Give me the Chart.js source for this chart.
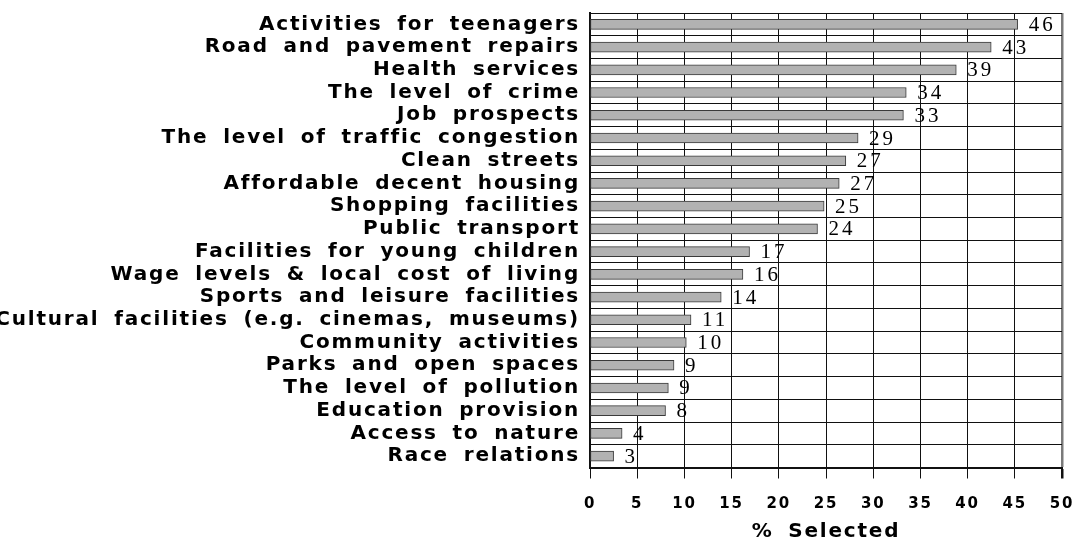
<!DOCTYPE html>
<html>
<head>
<meta charset="utf-8">
<script src="https://cdn.jsdelivr.net/npm/chart.js@4/dist/chart.umd.min.js"></script>
<style>
  html, body { margin: 0; padding: 0; background: #fff; }
  #wrap { width: 1076px; height: 542px; }
</style>
</head>
<body>
<div id="wrap"><canvas id="myChart" width="1076" height="542"></canvas></div>
<script>
"use strict";
const categories = [
  "Activities for teenagers",
  "Road and pavement repairs",
  "Health services",
  "The level of crime",
  "Job prospects",
  "The level of traffic congestion",
  "Clean streets",
  "Affordable decent housing",
  "Shopping facilities",
  "Public transport",
  "Facilities for young children",
  "Wage levels & local cost of living",
  "Sports and leisure facilities",
  "Cultural facilities (e.g. cinemas, museums)",
  "Community activities",
  "Parks and open spaces",
  "The level of pollution",
  "Education provision",
  "Access to nature",
  "Race relations",
];
// bar lengths as drawn
const barValues = [45.3, 42.5, 38.8, 33.5, 33.2, 28.4, 27.1, 26.4, 24.8, 24.1,
  16.9, 16.2, 13.9, 10.7, 10.2, 8.9, 8.3, 8.0, 3.4, 2.5];
// numbers printed next to the bars
const valueLabels = [46, 43, 39, 34, 33, 29, 27, 27, 25, 24,
  17, 16, 14, 11, 10, 9, 9, 8, 4, 3];
const xMin = 0;
const xMax = 50;
const xStep = 5;
const xTitle = "% Selected";

const ctx = document.getElementById("myChart");
const sans = '"DejaVu Sans", Verdana, sans-serif';

// slightly wide letter / word spacing like the original export
function setSpacing(c) {
  c.letterSpacing = "1.8px";
  c.wordSpacing = "6px";
}
const spacingPlugin = {
  id: "spacing",
  beforeLayout(chart) { setSpacing(chart.ctx); },
  beforeDraw(chart) { setSpacing(chart.ctx); },
};

const valueLabelPlugin = {
  id: "valueLabels",
  afterDatasetsDraw(chart) {
    const c = chart.ctx;
    const meta = chart.getDatasetMeta(0);
    c.save();
    c.letterSpacing = "3px";
    c.font = '21px "Liberation Serif", "Times New Roman", serif';
    c.fillStyle = "#000";
    c.textAlign = "left";
    c.textBaseline = "middle";
    meta.data.forEach((bar, i) => {
      c.fillText(String(valueLabels[i]), bar.x + 11, bar.y + 1);
    });
    c.restore();
  },
};

const myChart = new Chart(ctx, {
  type: "bar",
  data: {
    labels: categories,
    datasets: [
      {
        data: barValues,
        backgroundColor: "#b2b2b2",
        borderColor: "#3a3a3a",
        borderWidth: 1,
        borderSkipped: false,
        barThickness: 10,
      },
    ],
  },
  options: {
    indexAxis: "y",
    responsive: false,
    animation: false,
    devicePixelRatio: 1,
    layout: { padding: { top: 13, right: 14, bottom: 0, left: 0 } },
    plugins: {
      legend: { display: false },
      tooltip: { enabled: false },
    },
    scales: {
      x: {
        min: xMin,
        max: xMax,
        ticks: {
          stepSize: xStep,
          color: "#000",
          padding: 17,
          font: { family: sans, size: 15, weight: "bold" },
        },
        grid: {
          color: (c) => (c.tick && c.tick.value === xMax ? "#7a7a7a" : "#111"),
          lineWidth: (c) => (c.tick && c.tick.value === xMax ? 2.5 : 1),
          tickColor: "#111",
          tickLength: 11,
        },
        border: { color: "#111", width: 2 },
        title: {
          display: true,
          text: xTitle,
          color: "#000",
          padding: { top: 4, bottom: 0 },
          font: { family: sans, size: 20, weight: "bold", lineHeight: 1 },
        },
        afterFit(scale) {
          scale.height = 74.5;
          scale.paddingLeft = 0;
          scale.paddingRight = 0;
        },
      },
      y: {
        ticks: {
          color: "#000",
          padding: 10,
          autoSkip: false,
          font: { family: sans, size: 20, weight: "bold" },
        },
        grid: {
          color: "#111",
          lineWidth: 1,
          drawTicks: false,
        },
        border: { color: "#111", width: 2 },
        afterFit(scale) {
          scale.width = 590;
          scale.paddingTop = 0;
          scale.paddingBottom = 0;
        },
      },
    },
  },
  plugins: [spacingPlugin, valueLabelPlugin],
});
</script>
</body>
</html>
